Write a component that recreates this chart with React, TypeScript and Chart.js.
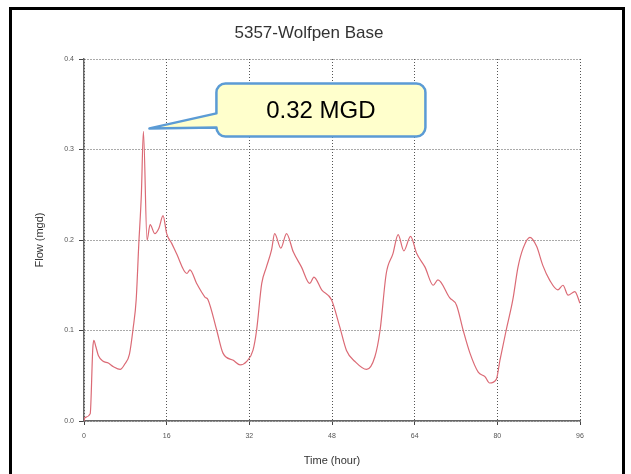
import React, { useEffect, useRef } from "react";
import { Chart, registerables } from "chart.js";

Chart.register(...registerables);

const chartTitle = "5357-Wolfpen Base";
const xTitle = "Time (hour)";
const yTitle = "Flow (mgd)";
const calloutText = "0.32 MGD";
const peakHour = 11.5;
const peakFlow = 0.32;

const hours = [0, 0.2, 1.2, 1.7, 1.9, 2.3, 2.8, 3.7, 4.7, 5.7, 7.0, 7.9, 8.8, 9.5, 10.1, 10.6, 11.1, 11.5, 12.2, 12.8, 13.7, 14.5, 15.3, 16.0, 17.0, 17.9, 19.9, 20.5, 21.8, 23.4, 24.0, 25.7, 26.9, 28.9, 30.2, 31.5, 32.7, 33.4, 34.4, 35.3, 36.3, 36.9, 38.1, 39.2, 40.5, 42.1, 43.7, 44.5, 46.0, 47.9, 49.5, 50.8, 52.4, 54.7, 56.3, 57.3, 58.5, 59.8, 60.8, 61.9, 63.2, 64.4, 66.0, 67.6, 68.5, 70.8, 72.1, 73.4, 74.7, 76.3, 77.6, 78.5, 79.8, 80.5, 81.7, 83.0, 84.0, 85.0, 86.3, 87.6, 88.8, 90.1, 91.7, 92.7, 93.7, 95.0, 96.0];

const flow = [0.000, 0.004, 0.008, 0.080, 0.089, 0.082, 0.072, 0.066, 0.064, 0.060, 0.057, 0.063, 0.074, 0.102, 0.134, 0.195, 0.250, 0.320, 0.200, 0.217, 0.207, 0.213, 0.227, 0.207, 0.196, 0.185, 0.163, 0.167, 0.152, 0.137, 0.134, 0.100, 0.075, 0.067, 0.062, 0.066, 0.078, 0.100, 0.152, 0.170, 0.189, 0.207, 0.191, 0.207, 0.187, 0.170, 0.152, 0.159, 0.145, 0.134, 0.104, 0.078, 0.066, 0.057, 0.071, 0.100, 0.163, 0.185, 0.206, 0.188, 0.204, 0.185, 0.170, 0.150, 0.156, 0.136, 0.128, 0.100, 0.075, 0.054, 0.049, 0.042, 0.046, 0.067, 0.100, 0.134, 0.170, 0.191, 0.203, 0.193, 0.172, 0.156, 0.145, 0.150, 0.139, 0.143, 0.130];

const xTicks = [0, 16, 32, 48, 64, 80, 96];
const yTicks = [0.0, 0.1, 0.2, 0.3, 0.4];

const FONT = "Arial, 'Liberation Sans', sans-serif";

const titlePlugin = {
  id: "customTitle",
  afterDraw(chart: any) {
    const { ctx } = chart;
    ctx.save();
    ctx.fillStyle = "#333333";
    ctx.font = "17px " + FONT;
    ctx.textAlign = "center";
    ctx.textBaseline = "middle";
    ctx.fillText(chartTitle, 309, 33);
    ctx.restore();
  },
};

const calloutPlugin = {
  id: "callout",
  afterDraw(chart: any) {
    const { ctx, scales } = chart;
    const tipX = scales.x.getPixelForValue(peakHour) + 6;
    const tipY = scales.y.getPixelForValue(peakFlow) - 3;
    const left = tipX + 67;
    const top = tipY - 45;
    const w = 209;
    const h = 53;
    const r = 9;
    const right = left + w;
    const bottom = top + h;
    const tailTop = tipY - 15;
    const tailBottom = tipY - 1;
    ctx.save();
    ctx.beginPath();
    ctx.moveTo(left + r, top);
    ctx.lineTo(right - r, top);
    ctx.arcTo(right, top, right, top + r, r);
    ctx.lineTo(right, bottom - r);
    ctx.arcTo(right, bottom, right - r, bottom, r);
    ctx.lineTo(left + r, bottom);
    ctx.arcTo(left, bottom, left, bottom - r, r);
    ctx.lineTo(left, tailBottom);
    ctx.lineTo(tipX, tipY);
    ctx.lineTo(left, tailTop);
    ctx.lineTo(left, top + r);
    ctx.arcTo(left, top, left + r, top, r);
    ctx.closePath();
    ctx.fillStyle = "#FFFFCC";
    ctx.fill();
    ctx.lineWidth = 2.5;
    ctx.strokeStyle = "#5B9BD5";
    ctx.lineJoin = "round";
    ctx.stroke();
    ctx.fillStyle = "#000000";
    ctx.font = "24px " + FONT;
    ctx.textAlign = "center";
    ctx.textBaseline = "middle";
    ctx.fillText(calloutText, left + w / 2, top + h / 2 + 1);
    ctx.restore();
  },
};

export default function App() {
  const ref = useRef<HTMLCanvasElement | null>(null);

  useEffect(() => {
    if (!ref.current) return;
    const points = hours.map((h, i) => ({ x: h, y: flow[i] }));
    const chart = new Chart(ref.current, {
      type: "line",
      data: {
        datasets: [
          {
            label: "Flow",
            data: points,
            borderColor: "#db6a75",
            borderWidth: 1.2,
            pointRadius: 0,
            fill: false,
            cubicInterpolationMode: "monotone",
          },
        ],
      },
      options: {
        responsive: false,
        animation: false,
        layout: { padding: { left: 0, right: 51, top: 59, bottom: 0 } },
        plugins: {
          legend: { display: false },
          tooltip: { enabled: false },
          title: { display: false },
        },
        scales: {
          x: {
            type: "linear",
            min: 0,
            max: 96,
            afterFit: (s: any) => {
              s.height = 53;
            },
            afterBuildTicks: (s: any) => {
              s.ticks = xTicks.map((v) => ({ value: v }));
            },
            ticks: {
              color: "#555555",
              font: { family: FONT, size: 7 },
              padding: 7,
              maxRotation: 0,
              callback: (v: any) => String(v),
            },
            grid: {
              color: "#555555",
              lineWidth: 1,
              tickLength: 4,
              tickColor: "#444444",
              tickBorderDash: [],
            },
            border: { display: true, color: "#666666", width: 1.5, dash: [1, 2] },
            title: {
              display: true,
              text: xTitle,
              color: "#333333",
              font: { family: FONT, size: 11 },
              padding: { top: 0, bottom: 6.4 },
            },
          },
          y: {
            type: "linear",
            min: 0,
            max: 0.4,
            afterFit: (s: any) => {
              s.width = 84;
            },
            afterBuildTicks: (s: any) => {
              s.ticks = yTicks.map((v) => ({ value: v }));
            },
            ticks: {
              color: "#555555",
              font: { family: FONT, size: 7 },
              padding: 5,
              callback: (v: any) => Number(v).toFixed(1),
            },
            grid: {
              color: "#555555",
              lineWidth: 1,
              tickLength: 5,
              tickColor: "#444444",
              tickBorderDash: [],
            },
            border: { display: true, color: "#666666", width: 1.5, dash: [1, 2] },
            title: {
              display: true,
              text: yTitle,
              color: "#333333",
              font: { family: FONT, size: 11 },
              padding: { top: 33.4, bottom: 0 },
            },
          },
        },
      },
      plugins: [titlePlugin, calloutPlugin],
    } as any);
    return () => chart.destroy();
  }, []);

  return (
    <div
      style={{
        position: "absolute",
        left: 0,
        top: 0,
        width: 631,
        height: 474,
        overflow: "hidden",
        background: "#ffffff",
      }}
    >
      <div
        style={{
          position: "absolute",
          left: 9,
          top: 7,
          width: 610,
          height: 490,
          border: "3px solid #000000",
        }}
      />
      <canvas ref={ref} width={631} height={474} style={{ position: "absolute", left: 0, top: 0 }} />
    </div>
  );
}
